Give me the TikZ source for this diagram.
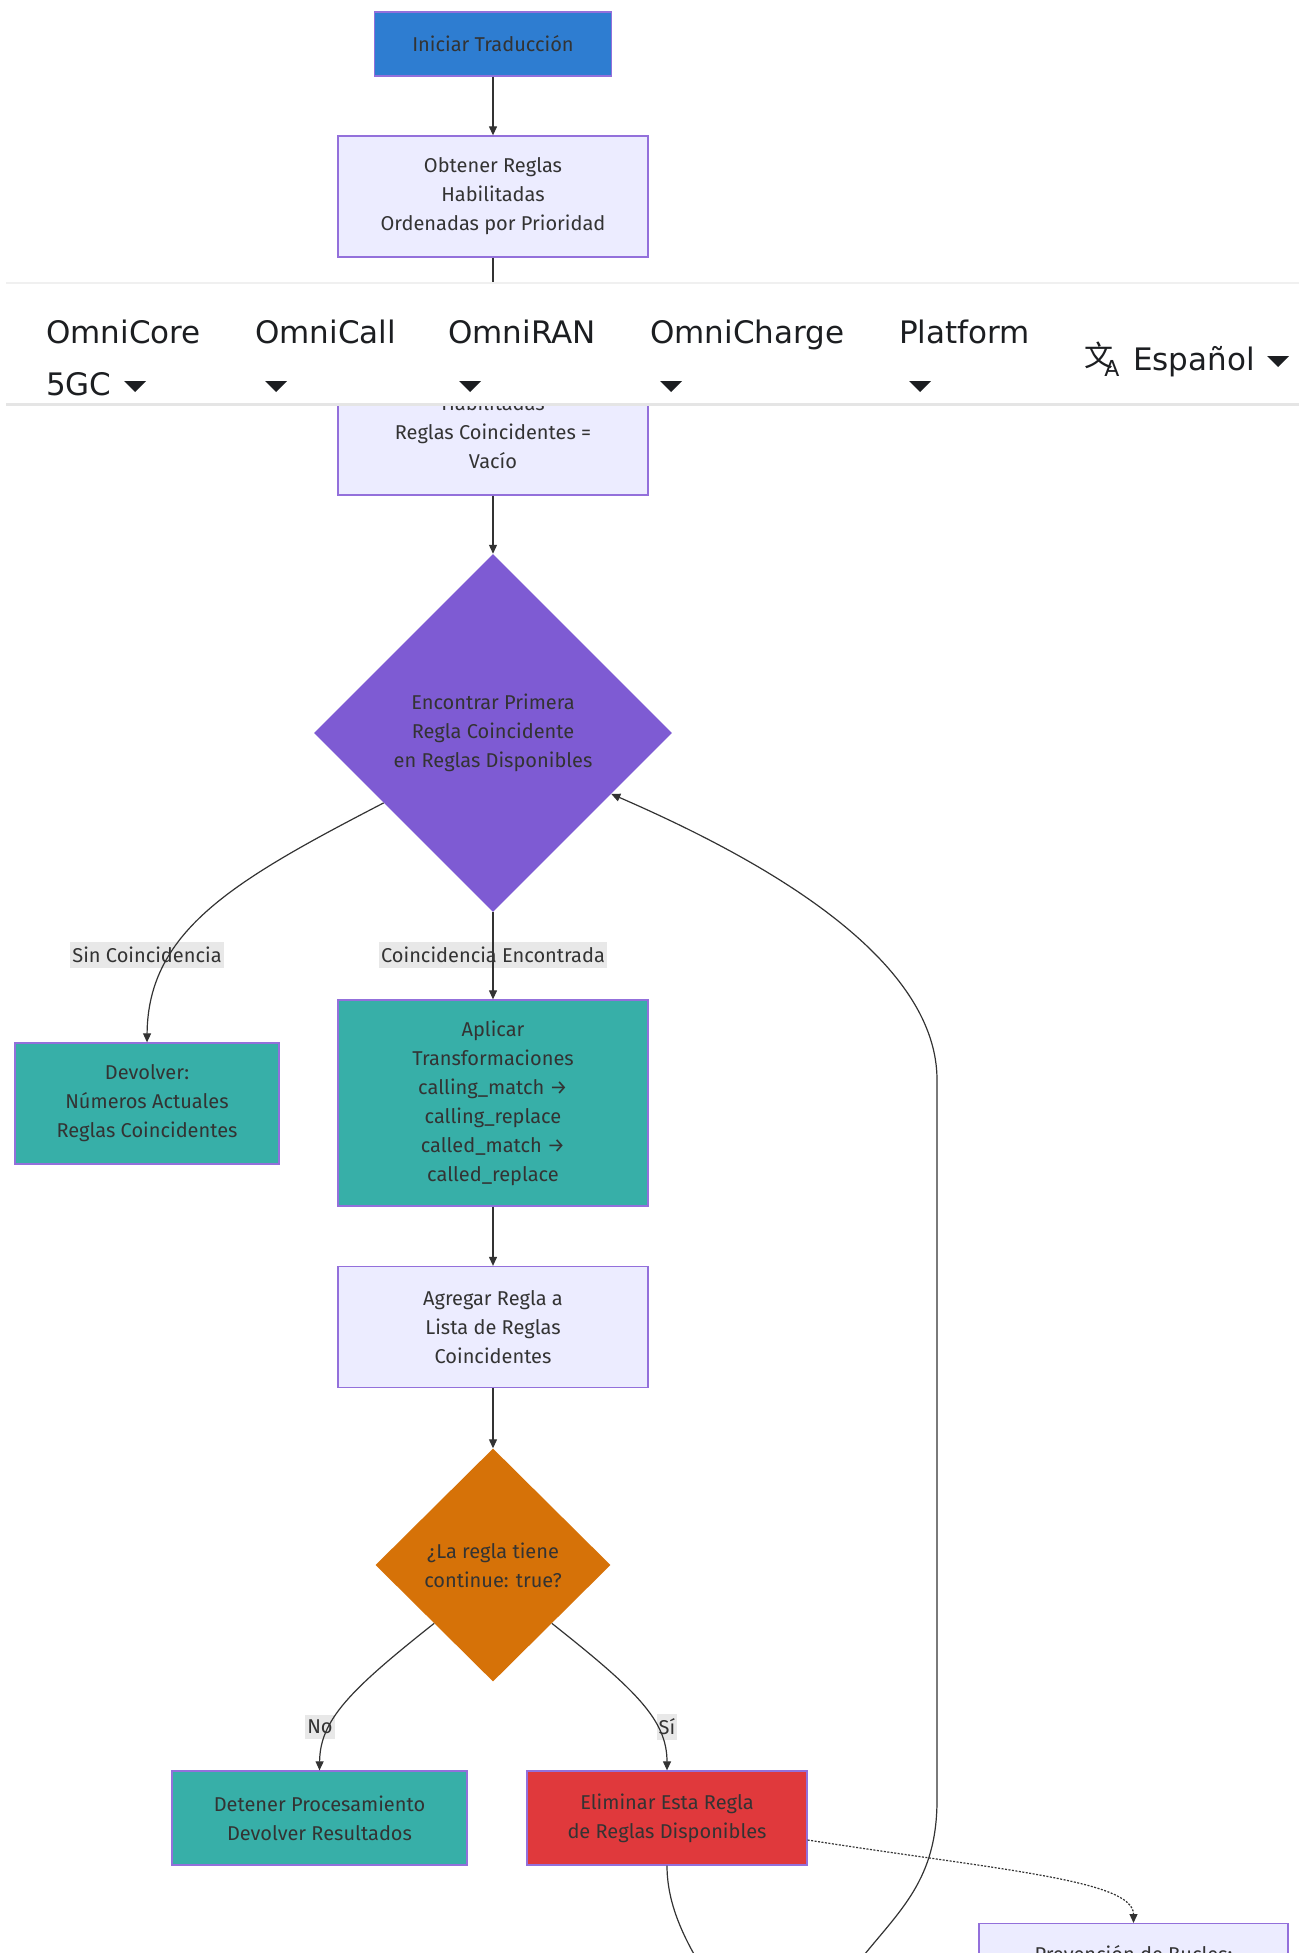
\documentclass[tikz,border=0pt]{standalone}
\usepackage{fontspec}
\setmainfont{Fira Sans}
\newfontfamily\navfont{DejaVu Sans}
\newfontfamily\cjk{Noto Sans CJK SC}
\usetikzlibrary{arrows.meta, positioning, shapes.geometric, calc}
\definecolor{txt}{HTML}{333333}
\definecolor{navtxt}{HTML}{1C1E21}
\definecolor{lav}{HTML}{ECECFF}
\definecolor{boxline}{HTML}{9370DB}
\definecolor{startblue}{HTML}{2E7DD1}
\definecolor{findpurple}{HTML}{7E5BD3}
\definecolor{okteal}{HTML}{37AFA8}
\definecolor{contorange}{HTML}{D67208}
\definecolor{delred}{HTML}{E0393C}
\definecolor{lblgray}{HTML}{E8E8E8}
\tikzset{
    box/.style={rectangle, draw=boxline, line width=1.3pt, fill=lav, text=txt,
        align=center, inner sep=0pt, font=\fontsize{20}{29}\selectfont},
    decision/.style={diamond, aspect=1, inner sep=0pt, text=txt, align=center,
        font=\fontsize{20}{29}\selectfont},
    edge/.style={draw=txt, line width=1.2pt, -{Triangle[length=9pt,width=8pt]}},
    lbl/.style={fill=lblgray, text=txt, inner xsep=2pt, inner ysep=5pt, font=\fontsize{20}{24}\selectfont},
    nav/.style={text=navtxt, font=\navfont\fontsize{31}{31}\selectfont,
        anchor=base west, inner sep=0pt}
}

\begin{document}
\begin{tikzpicture}[x=1pt, y=-1pt]
    \useasboundingbox (0,0) rectangle (1299,1953);
    \clip (0,0) rectangle (1299,1953);
    % edge labels (lines run over them)
    \node[lbl] (sinl) at (147,955) {Sin Coincidencia};
    \node[lbl] (foundl) at (493,955) {Coincidencia Encontrada};
    \node[lbl] (nol) at (320,1727) {No};
    \node[lbl] (sil) at (667,1727) {Sí};

    \node[box, fill=startblue, minimum width=237pt, minimum height=64pt] (start) at (493,44) {Iniciar Traducción};
    \node[box, minimum width=310pt, minimum height=121pt] (fetch) at (493,196.5)
        {Obtener Reglas\\Habilitadas\\Ordenadas por Prioridad};
    \node[box, minimum width=310pt, minimum height=178pt] (init) at (493,406)
        {~\\[10pt]~\\Habilitadas\\Reglas Coincidentes =\\Vacío};
    \node[decision, fill=findpurple, minimum width=358pt, minimum height=358pt] (find) at (493,733)
        {Encontrar Primera\\Regla Coincidente\\en Reglas Disponibles};
    \node[box, fill=okteal, minimum width=264pt, minimum height=121pt] (ret) at (147,1103.5)
        {Devolver:\\Números Actuales\\Reglas Coincidentes};
    \node[box, fill=okteal, minimum width=310pt, minimum height=206pt] (apply) at (493,1103)
        {Aplicar\\Transformaciones\\calling\_match →\\calling\_replace\\called\_match →\\called\_replace};
    \node[box, minimum width=310pt, minimum height=121pt] (add) at (493,1327)
        {Agregar Regla a\\Lista de Reglas\\Coincidentes};
    \node[decision, fill=contorange, minimum width=235pt, minimum height=233pt] (cont) at (493,1565)
        {¿La regla tiene\\continue: true?};
    \node[box, fill=okteal, minimum width=295pt, minimum height=94pt] (stop) at (319.5,1818)
        {Detener Procesamiento\\Devolver Resultados};
    \node[box, fill=delred, minimum width=280pt, minimum height=94pt] (remove) at (667,1818)
        {Eliminar Esta Regla\\de Reglas Disponibles};
    \node[box, anchor=north, minimum width=309pt, minimum height=60pt] (guard) at (1133.5,1923)
        {Prevención de Bucles:};

    \draw[edge] (start) -- (fetch);
    \draw[edge] (fetch) -- (init);
    \draw[edge] (init) -- (find);
    \draw[edge] ($(find.west)!0.39!(find.south)$) .. controls (235,880) and (148,930) .. (ret.north);
    \draw[edge] (find.south) -- (apply.north);
    \draw[edge] (apply) -- (add);
    \draw[edge] (add) -- (cont);
    \draw[edge] ($(cont.west)!0.5!(cont.south)$) .. controls (350,1690) and (320,1720) .. (stop.north);
    \draw[edge] ($(cont.east)!0.5!(cont.south)$) .. controls (636,1690) and (667,1720) .. (remove.north);
    % loop back runs out of the frame
    \draw[edge] (remove.south) .. controls (667,1915) and (695,1960) .. (730,2010)
        .. controls (770,2060) and (830,2040) .. (860,1960)
        .. controls (900,1910) and (937,1880) .. (937,1800) -- (937,1080)
        .. controls (937,950) and (740,850) .. ($(find.east)!0.34!(find.south)$);
    \draw[edge, dash pattern=on 2pt off 1.5pt] ($(remove.east)+(0,22)$) .. controls (1000,1870) and (1133.5,1880) .. (guard.north);

    % site navigation bar over the chart
    \fill[white] (6,283) rectangle (1299,403);
    \draw[black!6, line width=2pt] (6,283) -- (1299,283);
    \draw[black!10, line width=3pt] (6,404) -- (1299,404);
    \node[nav] (navcore) at (46,343) {OmniCore};
    \node[nav] (navcoreb) at (46,395) {5GC};
    \node[nav] (navcall) at (255,343) {OmniCall};
    \node[nav] (navran) at (448,343) {OmniRAN};
    \node[nav] (navcharge) at (650,343) {OmniCharge};
    \node[nav] (navplat) at (899,343) {Platform};
    \node[text=navtxt, inner sep=0pt] (lang) at (1102,359)
        {{\cjk\fontsize{29}{29}\selectfont 文}\kern-9pt\raisebox{-10pt}{\navfont\fontsize{22}{22}\selectfont A}};
    \node[nav] (langtxt) at (1133,370) {Español};
    \foreach \cx/\cy in {135/386, 276/386, 470/386, 671/386, 920/386, 1278/361}
        \fill[navtxt] (\cx-11,\cy-5) -- (\cx+11,\cy-5) -- (\cx,\cy+6) -- cycle;
\end{tikzpicture}
\end{document}
